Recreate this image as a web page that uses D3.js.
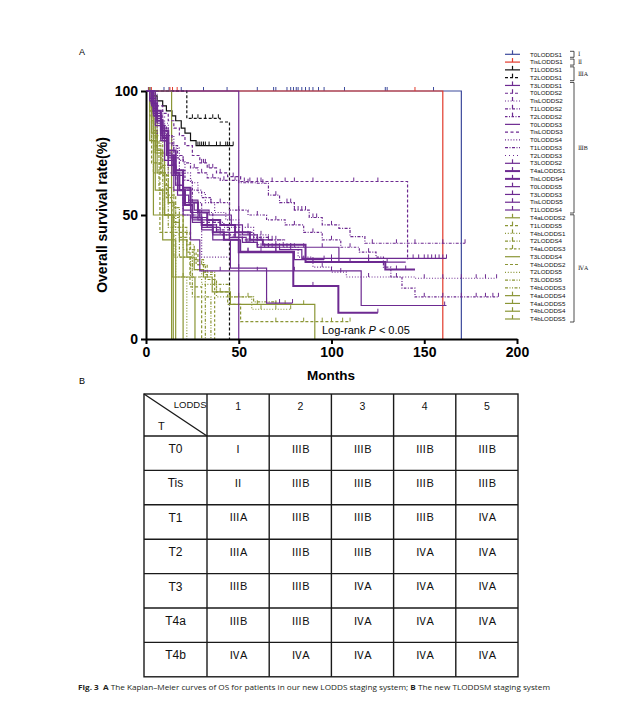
<!DOCTYPE html>
<html>
<head>
<meta charset="utf-8">
<script src="https://cdn.jsdelivr.net/npm/d3@7/dist/d3.min.js"></script>
<style>
  body { margin: 0; background: #fff; }
  svg { display: block; }
</style>
</head>
<body>
<div id="fig"></div>
<script>
// ---- data ----
var curveNames = ["T0LODDS1", "TisLODDS1", "T1LODDS1", "T2LODDS1", "T3LODDS1", "T0LODDS2", "TisLODDS2",
  "T1LODDS2", "T2LODDS2", "T0LODDS3", "TisLODDS3", "T0LODDS4", "T1LODDS3", "T2LODDS3", "T3LODDS2",
  "T4aLODDS1", "TisLODDS4", "T0LODDS5", "T3LODDS3", "TisLODDS5", "T1LODDS4", "T4aLODDS2", "T1LODDS5",
  "T4bLODDS1", "T2LODDS4", "T4aLODDS3", "T3LODDS4", "T4bLODDS2", "T2LODDS5", "T3LODDS5", "T4bLODDS3",
  "T4aLODDS4", "T4aLODDS5", "T4bLODDS4", "T4bLODDS5"];

// stage group of each curve (index into stageLabels)
var stageLabels = ["Ⅰ", "Ⅱ", "ⅢA", "ⅢB", "ⅣA"];
var curveStage = [0, 1, 2, 2, 3, 3, 3, 3, 3, 3, 3, 3, 3, 3, 3, 3, 3, 3, 3, 3, 3,
  4, 4, 4, 4, 4, 4, 4, 4, 4, 4, 4, 4, 4, 4];

// survival steps [month, survival %] (step after), last point = end of follow-up
var curveSteps = [
  [[0,100],[170,0]],
  [[0,100],[160,0]],
  [[0,100],[3,98],[6,96],[9,94],[11,92],[14,90],[16,88],[19,85],[21,83],[24,80],[27,78],[47,78]],
  [[0,100],[22,89],[40,87.5],[45,0]],
  [[0,100],[2,97],[4,93],[6,89],[8,85],[10,80],[12,75],[14,70],[16,66],[18,62],[20,58],[23,55],[26,52],[29,49],[33,46],[38,43],[45,41],[52,39],[60,37],[72,36],[84,32.5],[162,32.5]],
  [[0,100],[3,97],[6,94],[9,91],[12,88],[15,85],[18,82],[21,78],[25,74],[29,71],[33,69],[38,67],[44,65.5],[51,63.5],[141,32]],
  [[0,100],[3,96],[6,92],[9,87],[12,82],[15,77],[18,72],[21,67],[24,63],[28,59],[32,55],[37,51],[43,48],[50,45],[58,42],[66,40],[74,37],[82,33],[90,29],[100,27],[108,25],[145,24.5],[189,24.5]],
  [[0,100],[2,96],[5,91],[8,86],[11,82],[14,78],[17,74],[20,71],[24,69],[28,67],[33,65],[40,64],[50,63],[60,62.8],[66,58],[72,55],[80,52],[88,49],[95,46],[104,44.6],[110,41.3],[118,38.6],[172,38.6]],
  [[0,100],[3,95],[6,90],[9,85],[12,79],[15,73],[18,68],[21,64],[25,60],[30,57],[35,55],[45,52],[55,50],[65,48],[75,46],[85,43],[95,40],[105,37],[115,35],[124,33],[128,29],[132,25],[138,20.5],[145,17],[190,17]],
  [[0,100],[50,0]],
  [[0,100],[4,90],[8,80],[12,70],[16,62],[20,55],[25,50],[30,47],[38,44],[45,42],[52,40],[60,38],[70,37]],
  [[0,100],[6,83],[12,67],[20,50],[30,33],[45,33]],
  [[0,100],[4,92],[8,83],[12,75],[16,67],[20,60],[25,55],[30,51],[36,47],[42,45],[50,43],[58,41],[66,40],[75,40]],
  [[0,100],[5,90],[10,78],[15,66],[20,56],[25,49],[30,45],[40,42],[47,40]],
  [[0,100],[2,96],[5,90],[8,82],[11,74],[14,66],[17,58],[20,50],[24,40],[29,27.5],[116,13.5],[162,13.5]],
  [[0,100],[3,95],[6,88],[9,81],[12,74],[15,67],[18,60],[21,54],[25,49],[30,46],[36,43],[42,40],[50,35],[79.4,21.4],[103.7,10.6],[125,10.6]],
  [[0,100],[4,92],[8,84],[12,76],[16,68],[20,61],[24,55],[28,51],[33,48],[40,46],[48,43],[56,40],[63,38],[86,31],[129,28],[145,28]],
  [[0,100],[4,90],[8,80],[12,70],[16,62],[20,54],[25,48],[30,44],[36,40],[45.5,28.6],[65,14.5],[79,14.5]],
  [[0,100],[3,94],[6,87],[9,80],[12,73],[15,66],[18,60],[21,55],[24,51],[28,48],[33,45],[40,43],[48,41],[54,39],[60,37],[104,31],[140,31]],
  [[0,100],[5,86],[10,72],[15,60],[20,52],[25,47],[30,45],[36,42],[45,40],[51,35.3],[80,32],[96,32]],
  [[0,100],[4,91],[8,82],[12,74],[16,66],[20,60],[24,56],[28,52],[34,50],[42,50],[46,46],[52,42],[60,40],[68,40]],
  [[0,100],[2,92],[4,84],[6,76],[8,69],[10,62],[12,55],[15,47],[18,40],[22,33],[26,28],[31,25],[35.7,19],[45.5,14],[91,0]],
  [[0,100],[3,88],[6,76],[9,66],[12,58],[16,50],[20,43],[24,36],[28,30],[33,24],[38,19],[44,14],[51,7],[110,7]],
  [[0,100],[4,82],[8,67],[12,55],[16,45],[20,36],[25,28],[30,22],[38,17],[57,12],[78,12]],
  [[0,100],[3,90],[6,80],[9,70],[12,61],[15,53],[18,45],[22,38],[26,32],[31,27],[37,22],[45,17],[58,15],[70,14]],
  [[0,100],[2,90],[5,78],[8,67],[11,57],[14,49],[18,41],[22,35],[27,30],[32,26],[37,0]],
  [[0,100],[13.8,0]],
  [[0,100],[3,71],[7.5,43],[23.7,21],[30,0]],
  [[0,100],[5,75],[10,50],[16,25],[22,0]],
  [[0,100],[3,80],[7,60],[12,45],[18,33],[24,25],[32,0]],
  [[0,100],[4,67],[9,50],[15,33],[25,17],[35,0]],
  [[0,100],[4,50],[14.7,0]],
  [[0,100],[5,75],[10,50],[14,25],[26.4,0]],
  [[0,100],[3,83],[6,67],[10,50],[20,0]],
  [[0,100],[2,80],[5,60],[9,40],[16,0]]
];

// censored times (months)
var curveCensors = [
  [1.3,2.2,9.7,12.4,19,31,43.7,60,68.8,70,76,78,79.5,81,82,84,86,88,90,93,96,107,129,130,155],
  [1.6,2.9,12.9,14.3,16.8,145],
  [28,29,30,31,32,34,38,40,43,44,45,47],
  [25,28,32,36,39],
  [30,36,48,56,66,78,100,120,144,147,150,152,154,156,158,160,162],
  [30,31,32,34,36,40,47,53,56,60,62,68,75,80,90,112,125],
  [20,35,45,55,62,70,78,95,105,120,150,160,170,178,183,189],
  [26,30,36,42,48,55,63,70,76,78,80,82,84,86,90,92,100,122,135,145,160,172],
  [40,50,60,70,80,90,100,110,120,135,150,160,170,178,183,187,190],
  [], [], [], [], [],
  [40,60,80,100,161],
  [55,70,90,125],
  [60,70,100,110,120,135,140],
  [50,72,79],
  [55,58,62,64,66,68,70,72,74,76,78,80,85,95,120,130],
  [55,62,70,85,96],
  [45,55,62,66,68],
  [40,60,75,85],
  [70,85,95,100,106,110],
  [62,70,78],
  [50,55,65,70],
  [20,30],
  [], [], [], [], [],
  [2], [20], [], []
];

var xTicks = [0, 50, 100, 150, 200];
var yTicks = [0, 50, 100];

var tableCols = ["1", "2", "3", "4", "5"];
var tableRows = ["T0", "Tis", "T1", "T2", "T3", "T4a", "T4b"];
var tableCells = [
  ["Ⅰ", "ⅢB", "ⅢB", "ⅢB", "ⅢB"],
  ["Ⅱ", "ⅢB", "ⅢB", "ⅢB", "ⅢB"],
  ["ⅢA", "ⅢB", "ⅢB", "ⅢB", "ⅣA"],
  ["ⅢA", "ⅢB", "ⅢB", "ⅣA", "ⅣA"],
  ["ⅢB", "ⅢB", "ⅣA", "ⅣA", "ⅣA"],
  ["ⅢB", "ⅢB", "ⅣA", "ⅣA", "ⅣA"],
  ["ⅣA", "ⅣA", "ⅣA", "ⅣA", "ⅣA"]
];

// ---- styles ----
var stageColors = ["#3d4a9c", "#e23a2c", "#111111", "#6d2a91", "#8b9636"];
// per curve: dash pattern, width, censor ticks shown
var DASH = "3,2", DOT = "1,1.8", DD = "3,1.5,1,1.5", DDD = "3,1.5,1,1.5,1,1.5", SOL = null;
var curveDash = [SOL, SOL, SOL, DASH,
  SOL, DASH, DOT, DD, "2.5,1.5,1,1.5", SOL, "3,2.5", DOT, DD, "1,3", SOL, SOL, SOL, SOL, SOL, SOL, SOL,
  SOL, DASH, DOT, DD, "2.5,2", SOL, DASH, DOT, DD, DDD, SOL, SOL, SOL, SOL];
var curveWidth = curveNames.map(function(d, i) { return (i === 15 || i === 16) ? 2 : 1.2; });
var curveHasTicks = curveNames.map(function(d, i) {
  return !((i >= 9 && i <= 13) || (i >= 26 && i <= 30));
});
var romanFont = "'Noto Sans CJK SC', 'DejaVu Serif', serif";
var isRoman = function(ch) { return ch >= "\u2160" && ch <= "\u217f"; };

var width = 627, height = 707;
var svg = d3.select("#fig").append("svg")
  .attr("width", width).attr("height", height)
  .style("font-family", "'Liberation Sans', Arial, sans-serif");

var x = d3.scaleLinear().domain([0, 200]).range([146, 517]);
var y = d3.scaleLinear().domain([0, 100]).range([339, 91]);

svg.append("text").attr("x", 79).attr("y", 55).attr("font-size", 9).text("A");
svg.append("text").attr("x", 79).attr("y", 384).attr("font-size", 9).text("B");

// ---- KM curves ----
var line = d3.line()
  .x(function(d) { return x(d[0]); })
  .y(function(d) { return y(d[1]); })
  .curve(d3.curveStepAfter);

function survAt(steps, t) {
  var s = steps[0][1];
  steps.forEach(function(p) { if (p[0] <= t) s = p[1]; });
  return s;
}

// draw olive first, then purple, black, red, blue on top
var drawOrder = d3.range(curveNames.length).sort(function(a, b) {
  var rank = [4, 3, 2, 0, 1];
  return rank[curveStage[b]] - rank[curveStage[a]] || a - b;
});

var curves = svg.append("g").attr("class", "curves");
drawOrder.forEach(function(i) {
  var col = stageColors[curveStage[i]];
  var g = curves.append("g");
  g.append("path")
    .attr("d", line(curveSteps[i]))
    .attr("fill", "none")
    .attr("stroke", col)
    .attr("stroke-width", curveWidth[i])
    .attr("stroke-dasharray", curveDash[i]);
  if (curveHasTicks[i]) {
    g.selectAll("line")
      .data(curveCensors[i])
      .enter().append("line")
      .attr("x1", function(t) { return x(t); })
      .attr("x2", function(t) { return x(t); })
      .attr("y1", function(t) { return y(survAt(curveSteps[i], t)); })
      .attr("y2", function(t) { return y(survAt(curveSteps[i], t)) - 4; })
      .attr("stroke", col)
      .attr("stroke-width", 1);
  }
});

// ---- axes ----
var xAxis = svg.append("g").attr("transform", "translate(0," + y(0) + ")")
  .call(d3.axisBottom(x).tickValues(xTicks).tickSize(5).tickSizeOuter(0).tickPadding(3));
var yAxis = svg.append("g").attr("transform", "translate(" + x(0) + ",0)")
  .call(d3.axisLeft(y).tickValues(yTicks).tickSize(5).tickSizeOuter(0).tickPadding(3));
[xAxis, yAxis].forEach(function(a) {
  a.selectAll("path, line").attr("stroke", "#000").attr("stroke-width", 2);
  a.selectAll("text").attr("font-size", 14).attr("font-weight", "bold")
    .attr("fill", "#000").attr("font-family", "'Liberation Sans', Arial, sans-serif");
});

svg.append("text")
  .attr("x", 331).attr("y", 380)
  .attr("text-anchor", "middle").attr("font-size", 13.5).attr("font-weight", "bold")
  .text("Months");

svg.append("text")
  .attr("transform", "translate(107,215) rotate(-90)")
  .attr("text-anchor", "middle").attr("font-size", 14).attr("font-weight", "bold")
  .text("Overall survival rate(%)");

var lr = svg.append("text").attr("x", 322).attr("y", 334).attr("font-size", 11);
lr.append("tspan").text("Log-rank ");
lr.append("tspan").attr("font-style", "italic").text("P");
lr.append("tspan").text(" < 0.05");

// ---- legend ----
var ly = d3.scaleLinear().domain([0, curveNames.length - 1]).range([54.3, 319]);
var legend = svg.append("g");
curveNames.forEach(function(name, i) {
  var col = stageColors[curveStage[i]];
  var yy = ly(i);
  legend.append("line")
    .attr("x1", 505).attr("x2", 520).attr("y1", yy).attr("y2", yy)
    .attr("stroke", col).attr("stroke-width", curveWidth[i])
    .attr("stroke-dasharray", curveDash[i]);
  if (curveHasTicks[i]) {
    legend.append("line")
      .attr("x1", 512.5).attr("x2", 512.5).attr("y1", yy).attr("y2", yy - 4)
      .attr("stroke", col).attr("stroke-width", 1.2);
  }
  legend.append("text")
    .attr("x", 530).attr("y", yy + 2.2)
    .attr("font-size", 6.2).attr("fill", "#111")
    .text(name);
});

stageLabels.forEach(function(lab, k) {
  var idx = d3.range(curveNames.length).filter(function(i) { return curveStage[i] === k; });
  var y0 = ly(d3.min(idx)) - 3, y1 = ly(d3.max(idx)) + 3;
  legend.append("path")
    .attr("d", "M570," + y0 + "H574V" + y1 + "H570")
    .attr("fill", "none").attr("stroke", "#222").attr("stroke-width", 0.8);
  legend.append("text")
    .attr("x", 578).attr("y", (y0 + y1) / 2 + 2)
    .attr("font-size", 6)
    .attr("font-family", "'Liberation Serif', 'DejaVu Serif', serif")
    .attr("fill", "#222")
    .text(lab);
});

// ---- table B ----
var tLeft = 144, tRight = 518, tTop = 394, headH = 42, rowH = 34.4, firstW = 63;
var colX = d3.scaleBand().domain(tableCols).range([tLeft + firstW, tRight]);
var rowY = d3.scaleBand().domain(tableRows).range([tTop + headH, tTop + headH + rowH * tableRows.length]);
var tBottom = rowY.range()[1];
var table = svg.append("g").attr("stroke", "#1a1a1a").attr("stroke-width", 1.4);

table.append("rect")
  .attr("x", tLeft).attr("y", tTop).attr("width", tRight - tLeft).attr("height", tBottom - tTop)
  .attr("fill", "none");
[tLeft + firstW].concat(tableCols.slice(1).map(function(c) { return colX(c); })).forEach(function(xx) {
  table.append("line").attr("x1", xx).attr("x2", xx).attr("y1", tTop).attr("y2", tBottom);
});
tableRows.forEach(function(r) {
  table.append("line").attr("x1", tLeft).attr("x2", tRight).attr("y1", rowY(r)).attr("y2", rowY(r));
});
table.append("line").attr("x1", tLeft).attr("y1", tTop).attr("x2", tLeft + firstW).attr("y2", tTop + headH);

var tText = svg.append("g")
  .attr("font-family", "'Liberation Sans', Arial, sans-serif")
  .attr("fill", "#111");
tText.append("text").attr("x", tLeft + firstW - 0.5).attr("y", tTop + 14)
  .attr("text-anchor", "end").attr("font-size", 9.5).text("LODDS");
tText.append("text").attr("x", tLeft + 14).attr("y", tTop + 36)
  .attr("font-size", 11).text("T");
tableCols.forEach(function(c) {
  tText.append("text")
    .attr("x", colX(c) + colX.bandwidth() / 2).attr("y", tTop + 15.5)
    .attr("text-anchor", "middle").attr("font-size", 10.5).text(c);
});
tableRows.forEach(function(r, ri) {
  tText.append("text")
    .attr("x", tLeft + firstW / 2).attr("y", rowY(r) + 17)
    .attr("text-anchor", "middle").attr("font-size", 12).text(r);
  tableCells[ri].forEach(function(v, ci) {
    var t = tText.append("text")
      .attr("x", colX(tableCols[ci]) + colX.bandwidth() / 2).attr("y", rowY(r) + 16.5)
      .attr("text-anchor", "middle").attr("font-size", 11);
    // roman numeral glyph in a CJK font, letter in Arial
    var num = v.split("").filter(isRoman).join("");
    var rest = v.split("").filter(function(ch) { return !isRoman(ch); }).join("");
    t.append("tspan").attr("font-family", romanFont).text(num);
    if (rest) t.append("tspan").text(rest);
  });
});

// ---- caption ----
var cap = svg.append("text")
  .attr("x", 78).attr("y", 690)
  .attr("font-family", "'Open Sans', 'Noto Sans', sans-serif")
  .attr("font-size", 7.6).attr("fill", "#231f20")
  .attr("textLength", 472).attr("lengthAdjust", "spacingAndGlyphs");
cap.append("tspan").attr("font-weight", "bold").text("Fig. 3");
cap.append("tspan").text("\u2002");
cap.append("tspan").attr("font-weight", "bold").text("A");
cap.append("tspan").text(" The Kaplan\u2013Meier curves of OS for patients in our new LODDS staging system; ");
cap.append("tspan").attr("font-weight", "bold").text("B");
cap.append("tspan").text(" The new TLODDSM staging system");
</script>
</body>
</html>
